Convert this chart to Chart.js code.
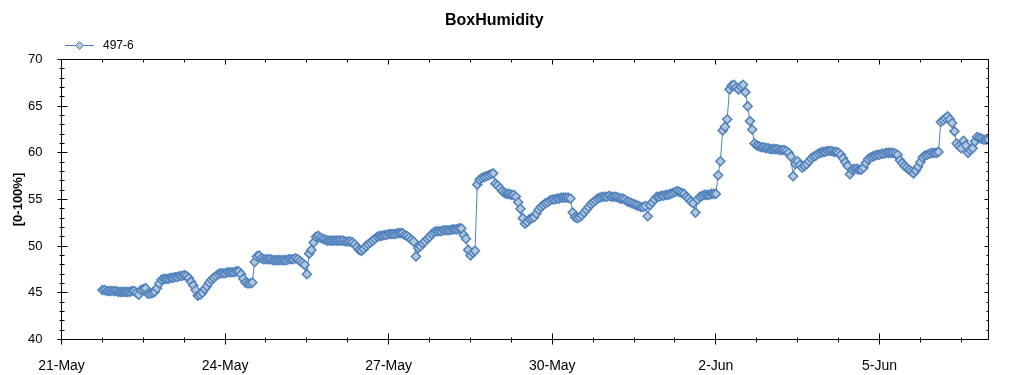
<!DOCTYPE html>
<html>
<head>
<meta charset="utf-8">
<title>BoxHumidity</title>
<script src="https://cdn.jsdelivr.net/npm/chart.js@4.4.1/dist/chart.umd.min.js"></script>
<style>
    html, body { margin: 0; padding: 0; background: #ffffff; }
    #chart { display: block; }
</style>
</head>
<body>
<canvas id="chart" width="1024" height="375"></canvas>
<script>
// ------------------------------------------------------------
// Data
// x is "days since 21-May 00:00", one reading every hour
// ------------------------------------------------------------
var seriesLabel = '497-6';
var startHour = 18;      // first reading: 21-May 18:00
var stepHours = 1;

var humidity = [
    45.3, 45.3, 45.2, 45.2, 45.2, 45.2, 45.2, 45.1, 45.1, 45.1, 45.1, 45.1, 45.1, 45.2, 45.2, 45.0, 44.8, 45.3, 45.4, 45.5,
    44.9, 44.9, 45.0, 45.1, 45.5, 46.0, 46.4, 46.5, 46.5, 46.5, 46.6, 46.6, 46.7, 46.7, 46.8, 46.8, 46.9, 46.8, 46.6, 46.2,
    45.8, 45.3, 44.7, 44.8, 45.0, 45.4, 45.7, 46.1, 46.4, 46.6, 46.8, 47.0, 47.1, 47.1, 47.1, 47.2, 47.2, 47.2, 47.2, 47.3,
    47.3, 47.0, 46.5, 46.1, 46.0, 46.0, 46.1, 48.3, 48.9, 49.0, 48.7, 48.6, 48.6, 48.6, 48.6, 48.5, 48.5, 48.5, 48.5, 48.5,
    48.5, 48.5, 48.6, 48.6, 48.6, 48.7, 48.6, 48.4, 48.2, 48.0, 47.0, 49.2, 49.6, 50.4, 51.0, 51.1, 50.9, 50.8, 50.7, 50.6,
    50.6, 50.6, 50.6, 50.6, 50.6, 50.6, 50.6, 50.5, 50.5, 50.5, 50.4, 50.2, 49.9, 49.6, 49.5, 49.7, 50.0, 50.2, 50.4, 50.6,
    50.8, 51.0, 51.1, 51.1, 51.2, 51.2, 51.3, 51.3, 51.3, 51.3, 51.4, 51.4, 51.4, 51.2, 51.1, 50.9, 50.7, 50.5, 48.9, 49.8,
    50.0, 50.3, 50.5, 50.8, 51.0, 51.3, 51.5, 51.6, 51.6, 51.6, 51.7, 51.7, 51.7, 51.7, 51.8, 51.8, 51.8, 51.9, 51.9, 51.2,
    50.8, 49.6, 49.0, 49.3, 49.5, 56.6, 57.1, 57.3, 57.4, 57.5, 57.6, 57.7, 57.8, 56.7, 56.5, 56.2, 55.9, 55.7, 55.6, 55.6,
    55.5, 55.5, 55.3, 54.7, 54.0, 53.0, 52.4, 52.6, 52.9, 53.0, 53.1, 53.5, 53.9, 54.2, 54.4, 54.6, 54.7, 54.9, 55.0, 55.0,
    55.1, 55.1, 55.2, 55.2, 55.2, 55.2, 55.1, 53.6, 53.1, 53.0, 53.1, 53.3, 53.6, 53.9, 54.2, 54.5, 54.7, 54.9, 55.1, 55.2,
    55.3, 55.3, 55.3, 55.4, 55.3, 55.3, 55.3, 55.2, 55.1, 55.1, 55.0, 54.8, 54.7, 54.6, 54.5, 54.4, 54.3, 54.2, 54.2, 54.3,
    53.2, 54.4, 54.7, 55.0, 55.3, 55.3, 55.4, 55.4, 55.5, 55.5, 55.6, 55.7, 55.8, 55.9, 55.8, 55.7, 55.6, 55.3, 55.1, 54.8,
    54.6, 53.6, 55.0, 55.3, 55.4, 55.5, 55.5, 55.5, 55.6, 55.6, 55.6, 57.6, 59.1, 62.4, 62.8, 63.6, 66.8, 67.2, 67.3, 67.0,
    66.8, 67.1, 67.3, 66.5, 65.0, 63.4, 62.5, 61.0, 60.8, 60.7, 60.6, 60.6, 60.5, 60.5, 60.4, 60.4, 60.4, 60.4, 60.3, 60.3,
    60.3, 60.2, 60.0, 59.6, 57.5, 58.8, 59.1, 58.7, 58.4, 58.6, 58.8, 59.1, 59.4, 59.6, 59.7, 59.9, 60.0, 60.1, 60.1, 60.2,
    60.2, 60.2, 60.1, 60.1, 60.0, 59.8, 59.4, 59.0, 58.6, 57.7, 58.2, 58.3, 58.3, 58.2, 58.2, 58.4, 58.9, 59.3, 59.5, 59.6,
    59.7, 59.8, 59.8, 59.9, 59.9, 60.0, 60.0, 60.0, 60.0, 59.9, 59.8, 59.2, 58.9, 58.6, 58.4, 58.2, 58.0, 57.8, 58.1, 58.5,
    59.0, 59.5, 59.7, 59.8, 59.9, 60.0, 60.0, 60.0, 60.1, 63.3, 63.5, 63.7, 63.9, 63.6, 63.2, 62.3, 61.0, 60.7, 60.5, 61.3,
    60.8, 60.0, 60.3, 60.5, 61.2, 61.7, 61.6, 61.5, 61.4, 61.4,
    61.4
];

// x tick labels, one every 3 days starting at 21-May
var xTickLabels = ['21-May', '24-May', '27-May', '30-May', '2-Jun', '5-Jun'];
var xMaxDays = 17;
var yMin = 40, yMax = 70;

var FONT = '"Liberation Sans", Arial, sans-serif';
var BLUE = '#4f81bd';
var MARKER_FILL = '#b4c8dc';

var points = humidity.map(function (v, i) {
    return { x: (startHour + i * stepHours) / 24, y: v };
});

// Frame around the plot plus inner/outer tick marks (major + minor)
var frameTicks = {
    id: 'frameTicks',
    afterDatasetsDraw: function (chart) {
        var ctx = chart.ctx;
        var a = chart.chartArea;
        var xs = chart.scales.x, ys = chart.scales.y;
        var L = Math.floor(a.left) + 0.5, R = Math.floor(a.right) + 0.5;
        var T = Math.floor(a.top) + 0.5, B = Math.floor(a.bottom) + 0.5;

        ctx.save();
        ctx.strokeStyle = '#000';
        ctx.lineWidth = 1;
        ctx.beginPath();
        ctx.rect(L, T, R - L, B - T);

        // x ticks every 18 hours, major every 3 days
        for (var d = 0; d <= xMaxDays + 1e-6; d += 0.75) {
            var px = Math.floor(xs.getPixelForValue(d)) + 0.5;
            var major = Math.abs(d / 3 - Math.round(d / 3)) < 1e-6;
            if (major) {
                ctx.moveTo(px, B - 6); ctx.lineTo(px, B + 5);
                ctx.moveTo(px, T); ctx.lineTo(px, T + 5);
            } else {
                ctx.moveTo(px, B - 2); ctx.lineTo(px, B + 3);
                ctx.moveTo(px, T); ctx.lineTo(px, T + 3);
            }
        }
        // y ticks every unit, major every 5
        for (var v = yMin; v <= yMax; v += 1) {
            var py = Math.floor(ys.getPixelForValue(v)) + 0.5;
            if (v % 5 === 0) {
                ctx.moveTo(L - 4, py); ctx.lineTo(L + 6, py);
                ctx.moveTo(R - 4, py); ctx.lineTo(R, py);
            } else {
                ctx.moveTo(L - 2, py); ctx.lineTo(L + 3, py);
                ctx.moveTo(R - 2, py); ctx.lineTo(R, py);
            }
        }
        ctx.stroke();
        ctx.restore();
    }
};

// Legend: short line with a diamond, then the series name
var lineLegend = {
    id: 'lineLegend',
    afterDraw: function (chart) {
        var ctx = chart.ctx;
        var ds = chart.data.datasets[0];
        var y = 45.5, cx = 79.5, r = 4;
        ctx.save();
        ctx.strokeStyle = BLUE;
        ctx.lineWidth = 1;
        ctx.beginPath();
        ctx.moveTo(65, y); ctx.lineTo(94, y);
        ctx.stroke();
        ctx.fillStyle = MARKER_FILL;
        ctx.beginPath();
        ctx.moveTo(cx - r, y); ctx.lineTo(cx, y - r);
        ctx.lineTo(cx + r, y); ctx.lineTo(cx, y + r);
        ctx.closePath();
        ctx.fill(); ctx.stroke();
        ctx.fillStyle = '#000';
        ctx.font = '12px ' + FONT;
        ctx.textBaseline = 'middle';
        ctx.textAlign = 'left';
        ctx.fillText(ds.label, 103, y);
        ctx.restore();
    }
};

new Chart(document.getElementById('chart'), {
    type: 'line',
    data: {
        datasets: [{
            label: seriesLabel,
            data: points,
            borderColor: BLUE,
            borderWidth: 1,
            tension: 0,
            fill: false,
            pointStyle: 'rectRot',
            pointRadius: 4.5,
            pointBorderWidth: 1.5,
            pointBackgroundColor: MARKER_FILL,
            pointBorderColor: BLUE
        }]
    },
    options: {
        responsive: false,
        animation: false,
        devicePixelRatio: 1,
        layout: { padding: { left: 0, right: 35.5, top: 0, bottom: 0 } },
        plugins: {
            legend: { display: false },
            tooltip: { enabled: false },
            title: {
                display: true,
                text: 'BoxHumidity',
                color: '#000',
                font: { family: FONT, size: 16, weight: 'bold' },
                padding: { top: 11, bottom: 29.3 }
            }
        },
        scales: {
            x: {
                type: 'linear',
                min: 0,
                max: xMaxDays,
                grid: { display: false },
                border: { display: false },
                ticks: {
                    stepSize: 3,
                    includeBounds: false,
                    autoSkip: false,
                    maxRotation: 0,
                    padding: 10,
                    color: '#000',
                    font: { family: FONT, size: 14 },
                    callback: function (value) {
                        var idx = Math.round(value / 3);
                        if (Math.abs(value / 3 - idx) > 1e-6) return '';
                        return xTickLabels[idx] || '';
                    }
                },
                afterFit: function (scale) { scale.height = 35.5; }
            },
            y: {
                min: yMin,
                max: yMax,
                grid: { display: false },
                border: { display: false },
                ticks: {
                    stepSize: 5,
                    padding: 11,
                    color: '#000',
                    font: { family: FONT, size: 13 }
                },
                title: {
                    display: true,
                    text: '[0-100%]',
                    color: '#000',
                    font: { family: FONT, size: 13, weight: 'bold' },
                    padding: { top: 11, bottom: 0 }
                },
                afterFit: function (scale) { scale.width = 61.5; }
            }
        }
    },
    plugins: [frameTicks, lineLegend]
});
</script>
</body>
</html>
